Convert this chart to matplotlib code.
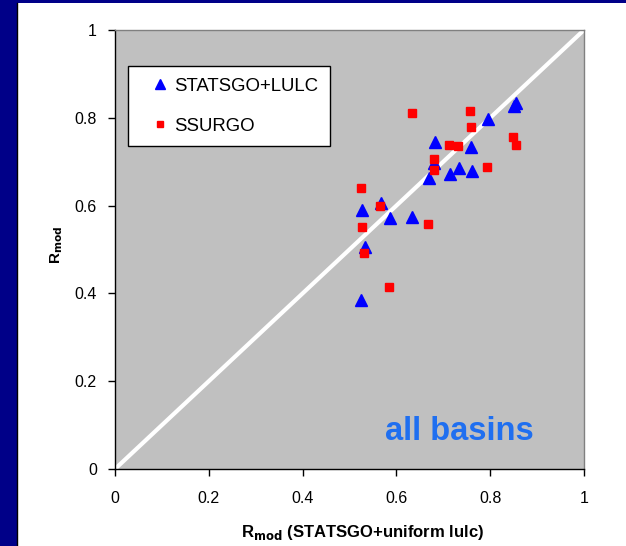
import numpy as np
import matplotlib
matplotlib.use("Agg")
import matplotlib.pyplot as plt
from matplotlib.patches import Rectangle

plt.rcParams['font.family'] = ['Liberation Sans', 'DejaVu Sans']

# R_mod with STATSGO + uniform land use (x) vs. alternative soil/land use inputs (y)
statsgo_lulc_x = [0.525, 0.527, 0.533, 0.567, 0.586, 0.633, 0.670, 0.682, 0.680,
                  0.714, 0.733, 0.761, 0.759, 0.795, 0.855, 0.850]
statsgo_lulc_y = [0.385, 0.590, 0.505, 0.606, 0.572, 0.574, 0.663, 0.745, 0.697,
                  0.672, 0.686, 0.679, 0.733, 0.797, 0.834, 0.826]

ssurgo_x = [0.525, 0.565, 0.527, 0.531, 0.584, 0.667, 0.680, 0.680, 0.633,
            0.712, 0.731, 0.757, 0.759, 0.849, 0.855, 0.793]
ssurgo_y = [0.640, 0.599, 0.551, 0.492, 0.415, 0.558, 0.706, 0.681, 0.811,
            0.738, 0.736, 0.815, 0.779, 0.756, 0.738, 0.688]

ticks = [0, 0.2, 0.4, 0.6, 0.8, 1]
tick_labels = ['0', '0.2', '0.4', '0.6', '0.8', '1']

fig = plt.figure(figsize=(6.26, 5.46), dpi=100)
fig.patch.set_facecolor('white')

# slide frame: navy strip on the left and along the top
fig.patches.append(Rectangle((0, 0), 17 / 626, 1, transform=fig.transFigure,
                             facecolor='#000088', edgecolor='none', zorder=0))
fig.patches.append(Rectangle((0, 1 - 3 / 546), 1, 3 / 546, transform=fig.transFigure,
                             facecolor='#000088', edgecolor='none', zorder=0))
fig.lines.append(plt.Line2D([17 / 626, 17 / 626], [0, 1 - 3 / 546],
                            transform=fig.transFigure, color='black', lw=1))

ax = fig.add_axes([115 / 626, 77 / 546, 469 / 626, 439 / 546])
ax.set_facecolor('#c0c0c0')

ax.plot([0, 1], [0, 1], color='white', lw=3, zorder=2, solid_capstyle='butt')
ax.plot(statsgo_lulc_x, statsgo_lulc_y, linestyle='none', marker='^',
        markersize=9, color='#0000ff', label='STATSGO+LULC', zorder=3)
ax.plot(ssurgo_x, ssurgo_y, linestyle='none', marker='s',
        markersize=6, color='#ff0000', label='SSURGO', zorder=4)

ax.set_xlim(0, 1)
ax.set_ylim(0, 1)
ax.set_xticks(ticks)
ax.set_xticklabels(tick_labels)
ax.set_yticks(ticks)
ax.set_yticklabels(tick_labels)
ax.tick_params(direction='out', length=5, width=1, labelsize=11.5)
ax.tick_params(axis='x', pad=11)
ax.tick_params(axis='y', pad=8)

for side in ['left', 'bottom']:
    ax.spines[side].set_color('black')
    ax.spines[side].set_linewidth(1)
for side in ['top', 'right']:
    ax.spines[side].set_color('#808080')
    ax.spines[side].set_linewidth(1)

ax.set_xlabel(r'R$_{\mathbf{mod}}$ (STATSGO+uniform lulc)', fontsize=12,
              fontweight='bold', labelpad=12)
ax.xaxis.label.set_x(0.529)
ax.set_ylabel(r'R$_{\mathbf{mod}}$', fontsize=11, fontweight='bold', labelpad=7)
ax.yaxis.label.set_y(0.51)

leg = ax.legend(loc='upper left', bbox_to_anchor=(0.028, 0.918), fontsize=13.4,
                frameon=True, fancybox=False, edgecolor='black', framealpha=1,
                handlelength=2.2, handletextpad=-0.33, labelspacing=1.25,
                borderpad=0.62, borderaxespad=0, markerscale=0.8)
leg.get_frame().set_linewidth(1)

ax.text(0.892, 0.085, 'all basins', transform=ax.transAxes, ha='right',
        va='center', fontsize=23.5, fontweight='bold', color='#1f6ff0')

fig.savefig('out.png', dpi=100)
